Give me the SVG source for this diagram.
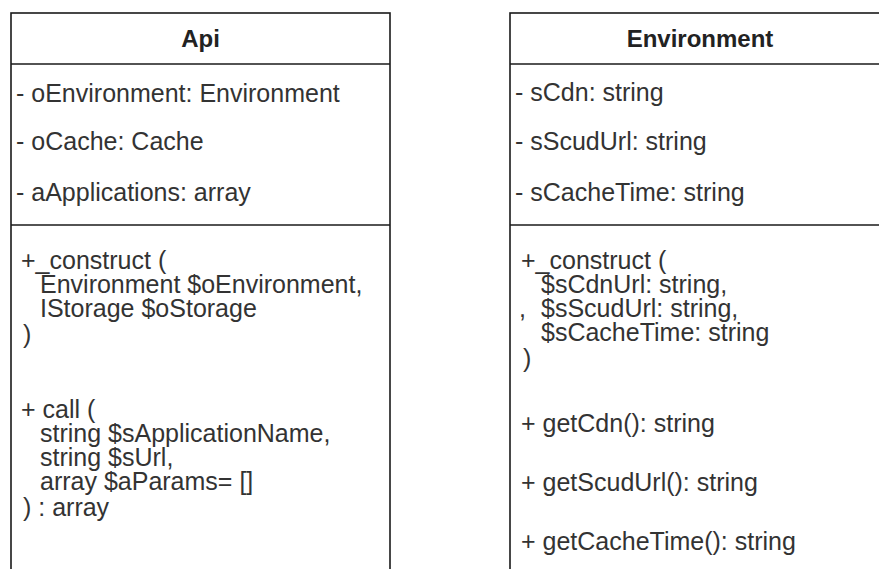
<svg xmlns="http://www.w3.org/2000/svg" width="879" height="569" viewBox="0 0 879 569">
  <style>
    .box { fill: #ffffff; stroke: #1a1a1a; stroke-width: 1.6; }
    .sep { stroke: #1a1a1a; stroke-width: 1.6; fill: none; }
    .title { font-family: "Liberation Sans", Arial, sans-serif; font-size: 24px; font-weight: bold; fill: #222; text-anchor: middle; }
    .row { font-family: "Liberation Sans", Arial, sans-serif; font-size: 25px; fill: #333; }
  </style>
  <rect width="879" height="569" fill="#ffffff"/>

  <!-- Api class: name, attributes, operations -->
  <g id="api">
    <rect class="box" x="11" y="13" width="379" height="600"/>
    <line class="sep" x1="11" y1="64" x2="390" y2="64"/>
    <line class="sep" x1="11" y1="225" x2="390" y2="225"/>
    <text class="title" x="200.5" y="47">Api</text>
    <text class="row" x="16" y="102">- oEnvironment: Environment</text>
    <text class="row" x="16" y="150">- oCache: Cache</text>
    <text class="row" x="16" y="201">- aApplications: array</text>
    <text class="row" x="21" y="269">+_construct (</text>
    <text class="row" x="40" y="293">Environment $oEnvironment,</text>
    <text class="row" x="40" y="317">IStorage $oStorage</text>
    <text class="row" x="23" y="343">)</text>
    <text class="row" x="21" y="418">+ call (</text>
    <text class="row" x="40" y="442">string $sApplicationName,</text>
    <text class="row" x="40" y="466">string $sUrl,</text>
    <text class="row" x="40" y="490">array $aParams= []</text>
    <text class="row" x="23" y="516">) : array</text>
  </g>

  <!-- Environment class: name, attributes, operations -->
  <g id="environment">
    <rect class="box" x="510" y="13" width="380" height="600"/>
    <line class="sep" x1="510" y1="64" x2="890" y2="64"/>
    <line class="sep" x1="510" y1="225" x2="890" y2="225"/>
    <text class="title" x="700" y="47">Environment</text>
    <text class="row" x="515" y="101">- sCdn: string</text>
    <text class="row" x="515" y="150">- sScudUrl: string</text>
    <text class="row" x="515" y="201">- sCacheTime: string</text>
    <text class="row" x="521" y="269">+_construct (</text>
    <text class="row" x="541" y="293">$sCdnUrl: string,</text>
    <text class="row" x="519" y="317">,</text>
    <text class="row" x="541" y="317">$sScudUrl: string,</text>
    <text class="row" x="541" y="341">$sCacheTime: string</text>
    <text class="row" x="523" y="367">)</text>
    <text class="row" x="521" y="432">+ getCdn(): string</text>
    <text class="row" x="521" y="491">+ getScudUrl(): string</text>
    <text class="row" x="521" y="550">+ getCacheTime(): string</text>
  </g>

  <!-- the two classes are not linked -->
  <g id="connectors"></g>
</svg>
